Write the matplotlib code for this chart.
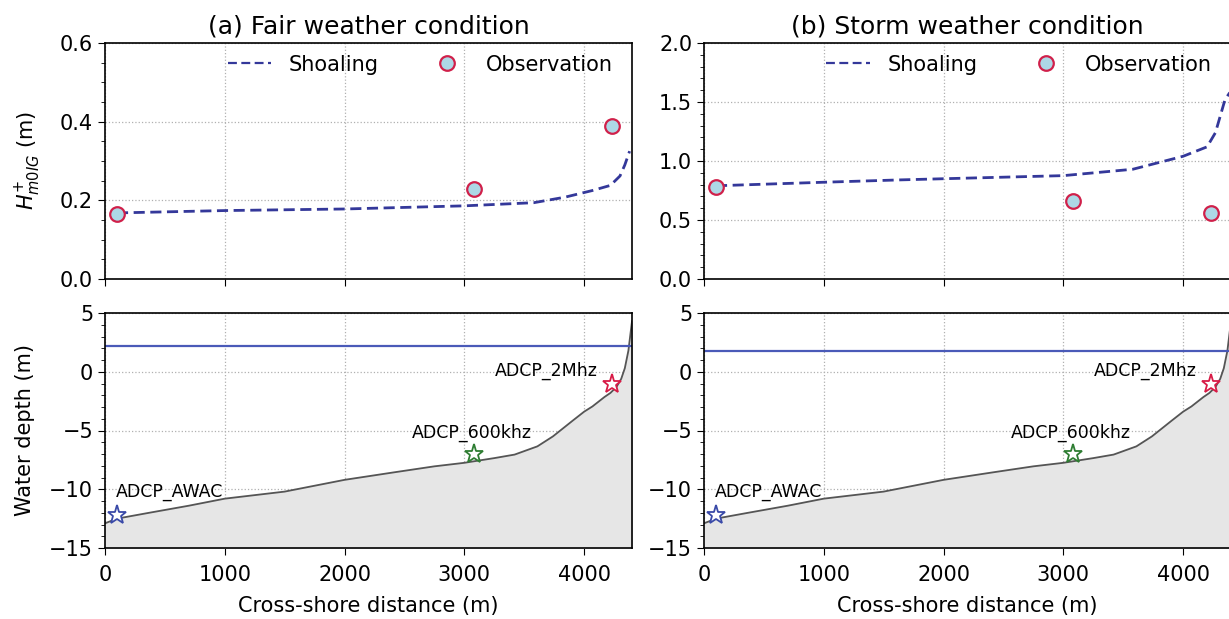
import numpy as np
import matplotlib
matplotlib.use("Agg")
import matplotlib.pyplot as plt
from matplotlib.ticker import AutoMinorLocator

# bathymetry profile (cross-shore distance m, bed level m)
bed_x = [0, 100, 370, 700, 1000, 1500, 2000, 2420, 2750, 3000, 3250, 3420,
         3610, 3740, 3900, 4000, 4070, 4170, 4220, 4270, 4310, 4340, 4370, 4400]
bed_z = [-12.9, -12.5, -12.0, -11.4, -10.8, -10.2, -9.2, -8.55, -8.05, -7.75,
         -7.35, -7.05, -6.35, -5.5, -4.2, -3.4, -2.95, -2.15, -1.8, -1.3, -0.6,
         0.3, 1.8, 4.3]

# instruments
inst_names = ["ADCP_AWAC", "ADCP_600khz", "ADCP_2Mhz"]
inst_x = [100, 3080, 4230]
inst_z = [-12.2, -7.0, -1.0]
inst_colors = ["#3a4aa8", "#2e7d32", "#d81b46"]

# water levels
wl_fair = 2.15
wl_storm = 1.75

# shoaling estimate
sh_x_fair = [100, 1000, 2000, 3000, 3580, 3840, 4070, 4220, 4300, 4340, 4380]
sh_h_fair = [0.168, 0.174, 0.178, 0.186, 0.194, 0.208, 0.225, 0.238, 0.262, 0.290, 0.325]
sh_x_storm = [100, 1000, 1640, 2010, 3000, 3580, 4000, 4200, 4270, 4310, 4350, 4390]
sh_h_storm = [0.79, 0.82, 0.84, 0.85, 0.876, 0.93, 1.04, 1.12, 1.24, 1.38, 1.52, 1.58]

# observations
obs_x = [100, 3080, 4230]
obs_fair = [0.165, 0.23, 0.39]
obs_storm = [0.78, 0.66, 0.56]

titles = ["(a) Fair weather condition", "(b) Storm weather condition"]

plt.rcParams["font.family"] = "DejaVu Sans"
fig = plt.figure(figsize=(12.29, 6.19), dpi=100)

W = 527 / 1229
lefts = [105 / 1229, 704 / 1229]
top_rect = (1 - 279 / 619, 236 / 619)
bot_rect = (1 - 548 / 619, 235 / 619)

cases = [
    (sh_x_fair, sh_h_fair, obs_fair, wl_fair, (0, 0.6), np.arange(0, 0.61, 0.2), "{:.1f}"),
    (sh_x_storm, sh_h_storm, obs_storm, wl_storm, (0, 2.0), np.arange(0, 2.01, 0.5), "{:.1f}"),
]

FS = 15
for i, (sx, sh, obs, wl, ylim, yt, fmt) in enumerate(cases):
    ax1 = fig.add_axes([lefts[i], top_rect[0], W, top_rect[1]])
    ax2 = fig.add_axes([lefts[i], bot_rect[0], W, bot_rect[1]])

    ax1.plot(sx, sh, "--", color="#34389a", lw=2, dashes=(4, 2), label="Shoaling")
    ax1.plot(obs_x, obs, "o", ls="none", ms=10.5, mfc="#add8e6", mec="#d0204a",
             mew=1.6, label="Observation")
    ax1.set_xlim(0, 4400)
    ax1.set_ylim(*ylim)
    ax1.set_yticks(yt)
    ax1.set_yticklabels([fmt.format(v) for v in yt])
    ax1.set_xticks([0, 1000, 2000, 3000, 4000])
    ax1.tick_params(labelbottom=False)
    ax1.set_title(titles[i], fontsize=18, pad=7)
    leg = ax1.legend(loc="upper right", bbox_to_anchor=(1, 1.03), ncol=2,
                     frameon=False, fontsize=FS, columnspacing=2.2,
                     handlelength=2.1, handletextpad=0.85)
    leg.get_lines()[0].set_linewidth(1.6)
    if i == 0:
        ax1.set_ylabel(r"$H^{+}_{m0IG}$ (m)", fontsize=FS, labelpad=12)

    ax2.fill_between(bed_x, bed_z, -15, color="#e6e6e6", zorder=1)
    ax2.plot(bed_x, bed_z, color="#555555", lw=1.3, zorder=2)
    ax2.axhline(wl, color="#4a5ab8", lw=1.6, zorder=2)
    for name, x, z, c in zip(inst_names, inst_x, inst_z, inst_colors):
        ax2.plot(x, z, marker="*", ms=14, mfc="white", mec=c, mew=1.3, zorder=4)
    ax2.text(90, -10.2, inst_names[0], fontsize=12.5, ha="left", va="center", zorder=5)
    ax2.text(3065, -5.2, inst_names[1], fontsize=12.5, ha="center", va="center", zorder=5)
    ax2.text(4110, 0.1, inst_names[2], fontsize=12.5, ha="right", va="center", zorder=5)
    ax2.set_xlim(0, 4400)
    ax2.set_ylim(-15, 5)
    ax2.set_yticks([-15, -10, -5, 0, 5])
    ax2.set_xticks([0, 1000, 2000, 3000, 4000])
    ax2.set_xlabel("Cross-shore distance (m)", fontsize=FS, labelpad=8)
    if i == 0:
        ax2.set_ylabel("Water depth (m)", fontsize=FS, labelpad=10)

    for ax in (ax1, ax2):
        ax.yaxis.set_minor_locator(AutoMinorLocator())
        ax.grid(True, ls=":", color="#b0b0b0", lw=0.9)
        ax.set_axisbelow(True)
        ax.tick_params(labelsize=FS, length=5)
        ax.tick_params(axis="x", pad=7)
        ax.tick_params(which="minor", length=3)
        for s in ax.spines.values():
            s.set_linewidth(1.2)

fig.savefig("out.png", dpi=100)
